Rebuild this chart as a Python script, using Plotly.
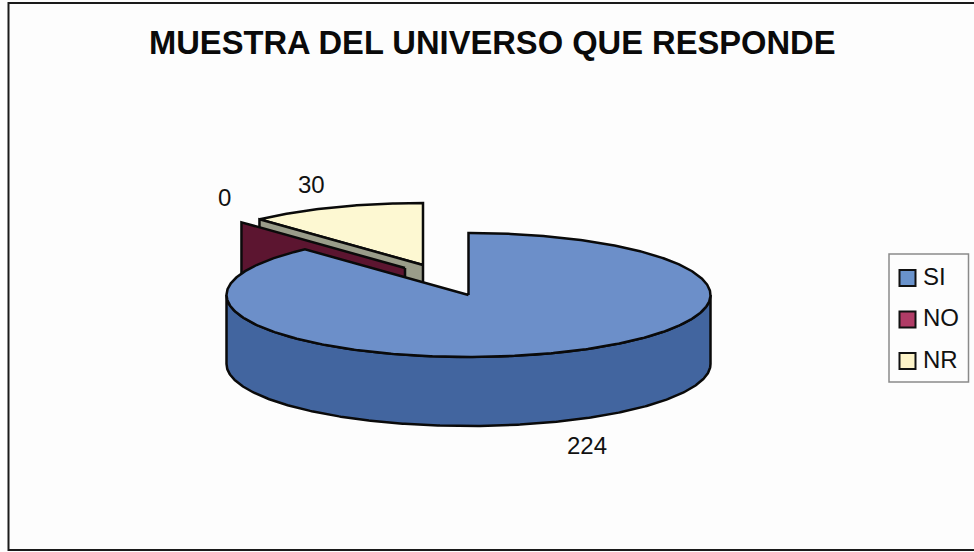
import numpy as np
import plotly.graph_objects as go

# Responses per category
categories = ["SI", "NO", "NR"]
values = [224, 0, 30]
title_text = "MUESTRA DEL UNIVERSO QUE RESPONDE"

# Chart colours: top face, side wall, legend swatch
top_colors = {"SI": "#6c8fc9", "NO": "#5c1530", "NR": "#fdf8d2"}
wall_colors = {"SI": "#42659f", "NO": "#5c1530", "NR": "#9a9d8a"}
swatch_colors = {"SI": "#6a93cc", "NO": "#b03c66", "NR": "#fdf3c8"}

W, H = 974, 552
RX, RY, DEPTH = 242, 62, 69
# Each slice's own apex: slices NO and NR are pulled away from the pie
apex = {"SI": (468.5, 295), "NO": (405, 268), "NR": (423, 265)}


def rim(cx, cy, a0, a1, dy=0):
    """Points on the pie rim, angles in degrees clockwise from 12 o'clock."""
    t = np.radians(np.linspace(a0, a1, max(int(abs(a1 - a0)) * 2, 2)))
    return cx + RX * np.sin(t), cy - RY * np.cos(t) + dy


def polygon(xs, ys, color, name):
    return go.Scatter(
        x=list(xs) + [xs[0]], y=list(ys) + [ys[0]], mode="lines", fill="toself",
        fillcolor=color, line=dict(color="#0a0a0a", width=2.5), name=name,
        showlegend=False, hoverinfo="name",
    )


total = sum(values)
bounds = np.cumsum([0] + values) / total * 360
spans = {c: (bounds[i], bounds[i + 1]) for i, c in enumerate(categories)}

fig = go.Figure()

# Back slice: NR top face and its cut wall
a0, a1 = spans["NR"]
cx, cy = apex["NR"]
rx, ry = rim(cx, cy, a0, a1)
fig.add_trace(polygon([cx, *rx], [cy, *ry], top_colors["NR"], "NR"))
fig.add_trace(polygon(
    [cx, rx[0], rx[0], cx], [cy, ry[0], ry[0] + DEPTH, cy + DEPTH],
    wall_colors["NR"], "NR"))

# NO has zero angle, so only its cut wall shows
a0, _ = spans["NO"]
cx, cy = apex["NO"]
rx, ry = rim(cx, cy, a0, a0 + 1)
fig.add_trace(polygon(
    [cx, rx[0], rx[0], cx], [cy, ry[0], ry[0] + DEPTH, cy + DEPTH],
    wall_colors["NO"], "NO"))

# Front slice: SI outer wall, then top face
a0, a1 = spans["SI"]
cx, cy = apex["SI"]
ux, uy = rim(cx, cy, 90, 270)
lx, ly = rim(cx, cy, 270, 90, DEPTH)
fig.add_trace(polygon([*ux, *lx], [*uy, *ly], wall_colors["SI"], "SI"))
rx, ry = rim(cx, cy, a0, a1)
fig.add_trace(polygon([cx, *rx], [cy, *ry], top_colors["SI"], "SI"))

# Frame (its right side runs off the page) and legend box
shapes = [
    dict(type="rect", xref="x", yref="y", x0=8.5, y0=3, x1=985, y1=550,
         line=dict(color="#1a1a1a", width=2), layer="below"),
    dict(type="rect", xref="x", yref="y", x0=889, y0=254, x1=968.5, y1=382,
         line=dict(color="#8a8a8a", width=1.5), fillcolor="#fdfdfd"),
]
annotations = [
    dict(x=492, y=42, text=f"<b>{title_text}</b>", showarrow=False,
         font=dict(size=32.7, color="#0a0a0a")),
]

# Value labels beside each slice
for cat, val, (lx_, ly_) in zip(categories, values, [(587, 445), (224, 197), (311, 184)]):
    annotations.append(dict(x=lx_, y=ly_, text=str(val), showarrow=False,
                            font=dict(size=24, color="#111111")))

# Legend entries
for cat, sy, ty in zip(categories, [278, 319.5, 361], [276, 317.5, 359]):
    shapes.append(dict(type="rect", xref="x", yref="y", x0=899.5, x1=915.5,
                       y0=sy - 8, y1=sy + 8, fillcolor=swatch_colors[cat],
                       line=dict(color="#111111", width=2)))
    annotations.append(dict(x=921, y=ty, text=cat, showarrow=False, xanchor="left",
                            font=dict(size=24, color="#111111")))

fig.update_layout(
    width=W, height=H, margin=dict(l=0, r=0, t=0, b=0),
    paper_bgcolor="#fdfdfd", plot_bgcolor="#fdfdfd",
    font=dict(family="Liberation Sans, Arial, sans-serif"),
    xaxis=dict(range=[0, W], visible=False, fixedrange=True),
    yaxis=dict(range=[H, 0], visible=False, fixedrange=True),
    shapes=shapes, annotations=annotations, showlegend=False,
)

fig.write_html("out.html", config=dict(displayModeBar=False))
